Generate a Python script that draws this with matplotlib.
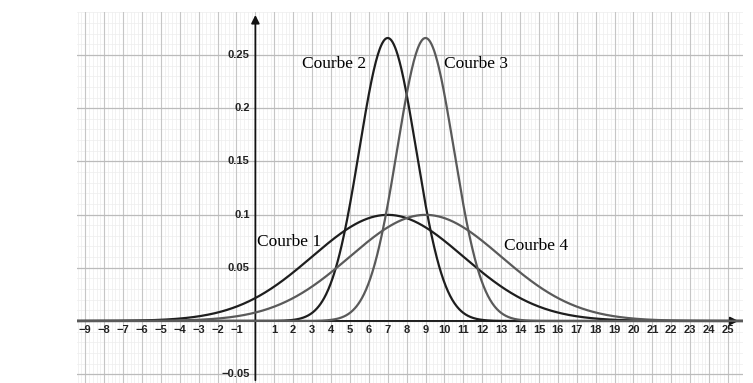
import matplotlib.pyplot as plt
import numpy as np

# paramètres des courbes (moyenne, écart-type)
labels = ['Courbe 1', 'Courbe 2', 'Courbe 3', 'Courbe 4']
means = [7, 7, 9, 9]
sigmas = [4, 1.5, 1.5, 4]
colors = ['#1e1e1e', '#1e1e1e', '#5a5a5a', '#5a5a5a']
label_pos = [(0.1, 0.0742), (2.47, 0.2415), (9.98, 0.2415), (13.16, 0.0705)]

xticks = [i for i in range(-9, 26) if i != 0]
yticks = [-0.05, 0.05, 0.1, 0.15, 0.2, 0.25]
ytick_labels = ['\u22120.05', '0.05', '0.1', '0.15', '0.2', '0.25']

xmin, xmax = -9.45, 25.8
ymin, ymax = -0.0583, 0.2907

fig = plt.figure(figsize=(7.53, 3.83), dpi=100)
ax = fig.add_axes([0.1019, 0.0, 0.885, 0.9695])
ax.set_xlim(xmin, xmax)
ax.set_ylim(ymin, ymax)

# grille
for x in np.arange(-9.4, 25.81, 0.2):
    ax.axvline(x, color='#ededed', lw=0.5, zorder=0)
for y in np.arange(-0.05, 0.291, 0.01):
    ax.axhline(y, color='#ededed', lw=0.5, zorder=0)
for x in range(-9, 26):
    ax.axvline(x, color='#c6c6c6', lw=0.8, zorder=0)
for y in [-0.05, 0, 0.05, 0.1, 0.15, 0.2, 0.25]:
    ax.axhline(y, color='#bbbbbb', lw=0.9, zorder=0)

for s in ax.spines.values():
    s.set_visible(False)
ax.set_xticks([])
ax.set_yticks([])

# axes avec flèches
ax.annotate('', xy=(xmax - 0.1, 0), xytext=(xmin, 0),
            arrowprops=dict(arrowstyle='-|>', color='#111111', lw=1.3, mutation_scale=12))
ax.annotate('', xy=(0, ymax - 0.0005), xytext=(0, ymin),
            arrowprops=dict(arrowstyle='-|>', color='#111111', lw=1.3, mutation_scale=12))

tick_font = dict(family='Liberation Sans', fontsize=8, fontweight='bold', color='#222222')
for t in xticks:
    lab = str(t).replace('-', '\u2212')
    ax.text(t, -0.0035, lab, ha='center', va='top', **tick_font)
for t, lab in zip(yticks, ytick_labels):
    ax.text(-0.3, t, lab, ha='right', va='center', **tick_font)

# courbes
x = np.linspace(xmin, xmax, 1500)
for m, s, c in zip(means, sigmas, colors):
    y = np.exp(-0.5 * ((x - m) / s) ** 2) / (s * np.sqrt(2 * np.pi))
    ax.plot(x, y, color=c, lw=1.6, zorder=3)

for lab, (px, py) in zip(labels, label_pos):
    ax.text(px, py, lab, family='Liberation Serif', fontsize=12.5, ha='left', va='center',
            color='black', zorder=4)

fig.savefig('out.png', dpi=100)
